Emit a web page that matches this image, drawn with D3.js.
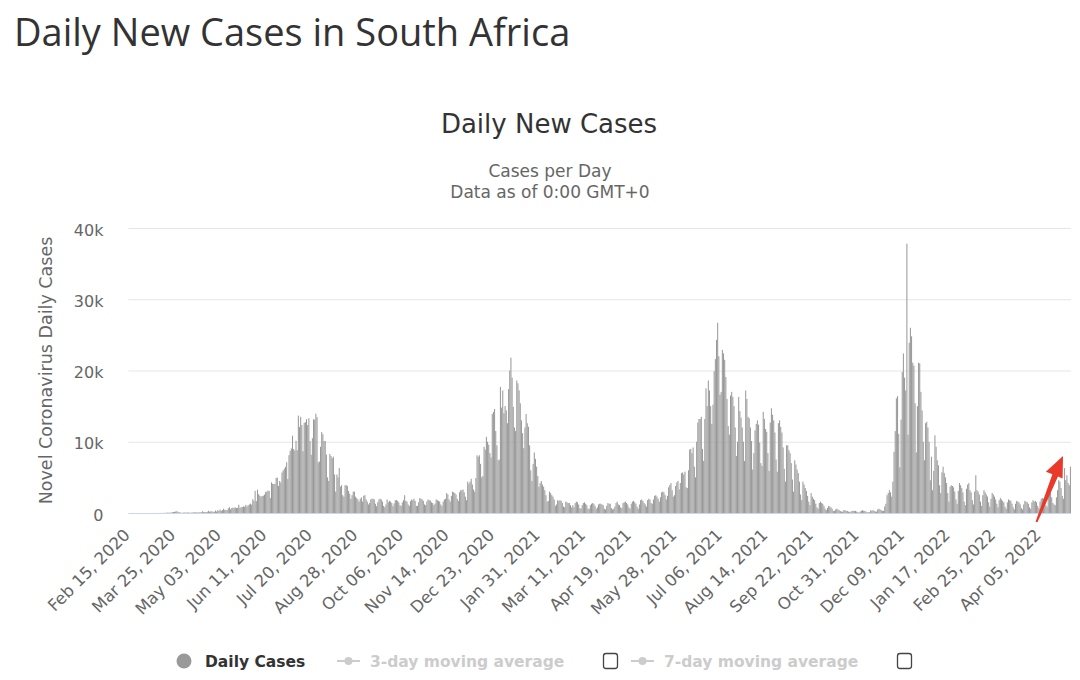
<!DOCTYPE html>
<html>
<head>
<meta charset="utf-8">
<script src="https://cdn.jsdelivr.net/npm/d3@7"></script>
<style>
  html, body { margin: 0; padding: 0; background: #fff; }
  svg { display: block; }
</style>
</head>
<body>
<svg id="chart" width="1080" height="680"></svg>
<script>
// ---------------- DATA (daily new cases, in thousands) ----------------
const firstDay = "2020-02-15";

const cases2020 = [
  /* Feb 15-29 */ [0,0,0,0,0,0,0,0,0,0,0,0,0,0,0],
  /* Mar */ [0,0,0,0,0.001,0,0.001,0.001,0.004,0.006,0.003,0.007,0.014,0.007,0.013,0.024,0.023,0.031,0.054,0.038,0.062,0.034,0.128,0.148,0.155,0.218,0.243,0.17,0.1,0.073,0.027],
  /* Apr */ [0.027,0.082,0.075,0.046,0.077,0.069,0.031,0.063,0.052,0.096,0.087,0.075,0.095,0.068,0.097,0.1,0.087,0.251,0.143,0.15,0.137,0.165,0.318,0.178,0.23,0.247,0.162,0.172,0.354,0.201],
  /* May */ [0.385,0.31,0.5,0.295,0.424,0.595,0.437,0.425,0.393,0.663,0.818,0.511,0.698,0.758,0.724,0.786,0.698,0.728,1.16,0.764,0.8,0.83,0.93,0.874,1.14,0.926,1.08,1.19,1.32,1.18,1.93],
  /* Jun */ [1.7,3.1,1.67,3.27,2.64,2.43,2.31,2.37,2.43,2.59,2.93,3.0,3.16,3.09,2.1,4.3,4.1,4.08,4.08,4.92,4.97,3.78,4.5,4.29,5.69,5.97,6.23,6.49,7.13,4.77],
  /* Jul */ [8.12,8.73,9.06,10.85,8.97,8.77,10.13,8.81,13.67,12.06,13.5,12.35,8.67,12.64,12.76,13.17,12.35,13.29,10.11,8.17,10.5,13.15,13.1,13.94,13.45,7.1,7.23,9.3,11.36,11.05,10.11],
  /* Aug */ [10.1,8.2,5.0,4.5,8.3,8.0,7.7,7.9,5.4,3.0,5.4,5.0,6.3,3.7,3.9,2.5,2.3,3.9,3.9,3.8,3.1,2.7,2.0,2.5,3.0,3.0,2.3,2.1,1.9,1.6,2.0],
  /* Sep */ [2.2,1.62,2.42,2.5,1.9,1.6,1.2,1.4,1.9,2.0,2.0,1.9,1.3,0.96,1.5,1.9,2.0,1.9,1.6,1.0,0.8,1.2,1.9,1.5,1.7,1.6,1.4,0.95,1.35,1.8],
  /* Oct */ [1.8,1.7,1.5,1.1,0.99,1.5,1.8,2.5,1.7,1.6,1.2,1.0,1.65,1.9,1.8,2.0,1.7,1.0,1.0,1.5,2.1,2.0,1.9,1.7,1.2,1.1,1.6,1.9,1.8,1.75,1.5],
  /* Nov */ [1.4,1.1,1.3,1.9,1.8,1.7,1.6,1.2,1.0,1.6,1.9,2.0,2.8,2.6,1.9,1.6,2.4,3.0,2.9,2.8,2.6,2.0,1.7,2.9,3.2,3.2,3.3,2.9,2.3,1.8],
  /* Dec */ [4.4,4.1,4.4,4.8,4.0,3.3,3.0,4.9,8.1,7.9,8.1,6.9,5.0,5.2,9.3,8.9,10.7,10.0,9.6,8.4,7.8,13.9,14.2,14.6,11.5,9.5,7.4,7.5,17.7,14.8,17.2]
];

const cases2021 = [
  /* Jan */ [14.0,15.0,14.4,12.6,17.4,20.0,21.8,19.0,14.9,12.0,11.5,18.6,18.2,17.2,15.4,13.0,11.2,9.1,12.0,13.9,12.6,12.1,9.5,6.0,4.5,6.9,8.5,7.6,6.5,5.2,3.7],
  /* Feb */ [4.2,4.5,4.0,3.7,3.2,2.5,1.6,1.7,3.0,2.8,2.5,2.3,1.9,1.0,1.2,1.8,1.7,1.8,1.7,1.4,0.9,0.8,1.6,1.5,1.4,1.4,1.1,0.8],
  /* Mar */ [1.1,0.8,1.4,1.6,1.5,1.2,0.7,0.6,1.1,1.4,1.5,1.3,1.1,0.6,0.6,1.1,1.3,1.4,1.3,1.0,0.6,0.8,1.2,1.3,1.3,1.2,1.1,0.6,0.5,1.0,1.4],
  /* Apr */ [1.3,1.3,0.7,0.5,0.6,0.9,1.4,1.6,1.2,1.1,0.8,0.7,1.4,1.5,1.6,1.4,1.2,0.8,0.6,1.3,1.6,1.7,1.5,1.3,0.9,0.6,1.2,1.8,1.9,1.7],
  /* May */ [1.4,1.2,0.9,1.8,2.0,1.9,1.4,1.3,1.9,2.4,2.5,2.3,2.0,1.6,2.2,2.9,3.0,2.9,2.5,1.9,2.4,3.6,3.9,4.2,3.2,2.3,2.5,3.8,4.3,4.5,3.3],
  /* Jun */ [4.2,5.6,5.7,5.4,5.8,3.6,3.5,6.0,8.9,9.0,8.4,9.2,6.5,5.0,10.0,12.7,13.2,13.2,13.5,9.0,7.3,13.2,17.5,15.0,18.6,17.2,15.0,12.5,15.2,19.9],
  /* Jul */ [21.6,24.3,26.7,22.0,16.6,17.0,22.9,22.4,21.5,19.1,16.0,12.2,11.0,16.5,17.0,16.3,15.0,12.0,8.0,10.0,16.3,14.3,13.4,12.0,10.0,7.3,17.2,16.0,13.5,13.3,12.0],
  /* Aug */ [10.1,6.1,8.4,11.6,12.5,13.0,12.4,9.9,7.0,6.6,14.2,13.2,11.8,11.4,8.4,5.9,12.7,14.7,13.8,13.0,11.3,7.5,5.8,12.6,13.0,12.1,11.3,9.2,6.2,4.4,9.5],
  /* Sep */ [9.5,8.8,8.4,7.0,4.7,3.0,7.4,6.8,6.1,5.6,4.4,2.6,1.8,4.4,4.0,3.5,3.1,2.4,1.6,1.1,2.8,2.3,2.0,1.8,1.3,0.8,0.6,1.4,1.6,1.4],
  /* Oct */ [1.3,1.0,0.6,0.4,0.7,1.0,0.9,0.8,0.6,0.3,0.3,0.5,0.6,0.5,0.4,0.3,0.2,0.2,0.4,0.4,0.3,0.3,0.2,0.1,0.2,0.3,0.3,0.3,0.3,0.2,0.1],
  /* Nov */ [0.1,0.2,0.3,0.4,0.3,0.3,0.2,0.1,0.1,0.1,0.4,0.3,0.4,0.3,0.2,0.2,0.5,0.6,0.5,0.4,0.3,0.3,0.9,1.3,2.5,2.8,3.2,2.9,2.3,4.4],
  /* Dec */ [8.6,11.5,16.1,16.4,11.1,6.4,13.1,19.8,22.4,19.0,17.2,37.8,11.0,23.9,26.0,24.8,21.1,20.7,15.4,8.5,15.0,21.1,21.0,17.0,14.4,10.0,7.4,12.6,12.8,12.0,10.0]
];

const cases2022 = [
  /* Jan */ [4.6,7.9,3.2,5.9,10.9,9.3,7.4,6.7,3.9,2.8,5.7,6.5,5.6,5.0,4.2,2.8,1.6,3.7,3.9,3.8,3.6,3.0,1.9,1.3,3.1,4.2,3.9,3.5,2.9,1.6,1.1],
  /* Feb */ [3.4,4.0,4.2,3.2,2.9,1.8,1.2,3.0,5.3,3.2,3.0,2.6,1.6,1.0,2.5,3.2,2.9,2.6,2.3,1.5,0.9,2.0,2.8,2.6,2.3,1.9,1.3,0.8],
  /* Mar */ [1.8,2.1,1.9,1.7,1.5,0.9,0.6,1.5,1.9,1.8,1.7,1.3,0.8,0.5,1.3,1.7,1.6,1.5,1.2,0.7,0.5,1.2,1.7,1.6,1.5,1.3,0.8,0.6,1.5,1.8,1.6],
  /* Apr */ [1.7,1.5,1.0,0.7,1.6,2.0,2.1,2.0,1.7,1.1,0.9,2.3,2.6,2.8,2.2,1.4,1.2,1.1,2.2,3.2,4.6,4.4,3.5,2.4,2.0,6.3,4.6,5.3,4.2,3.9],
  /* May */ [6.5]
];

const xTickLabels = ["Feb 15, 2020","Mar 25, 2020","May 03, 2020","Jun 11, 2020","Jul 20, 2020",
  "Aug 28, 2020","Oct 06, 2020","Nov 14, 2020","Dec 23, 2020","Jan 31, 2021","Mar 11, 2021",
  "Apr 19, 2021","May 28, 2021","Jul 06, 2021","Aug 14, 2021","Sep 22, 2021","Oct 31, 2021",
  "Dec 09, 2021","Jan 17, 2022","Feb 25, 2022","Apr 05, 2022"];
const yTickValues = [0, 10000, 20000, 30000, 40000];
const yTickLabels = ["0", "10k", "20k", "30k", "40k"];
const legendItems = ["Daily Cases", "3-day moving average", "7-day moving average"];

// ---------------- BUILD ----------------
const values = [...cases2020, ...cases2021, ...cases2022].flat().map(v => v * 1000);
const parse = d3.timeParse("%Y-%m-%d");
const fmt = d3.timeFormat("%b %d, %Y");
const start = parse(firstDay);
const categories = values.map((v, i) => fmt(d3.timeDay.offset(start, i)));
const data = values.map((v, i) => ({ cat: categories[i], value: v }));

const svg = d3.select("#chart");
const plot = { left: 128.4, right: 1071, top: 228, bottom: 513 };

const x = d3.scaleBand().domain(categories).range([plot.left, plot.right]).paddingInner(0.12).paddingOuter(0.06);
const y = d3.scaleLinear().domain([0, 40000]).range([plot.bottom, plot.top]);

const chartFont = "'DejaVu Sans', 'Lucida Grande', Verdana, sans-serif";

// Page heading
svg.append("text")
  .attr("x", 14).attr("y", 46)
  .attr("font-family", "'Open Sans', 'Segoe UI', sans-serif")
  .attr("font-size", 38)
  .attr("fill", "#333")
  .text("Daily New Cases in South Africa");

// Chart title & subtitle
svg.append("text")
  .attr("x", 549).attr("y", 133).attr("text-anchor", "middle")
  .attr("font-family", chartFont).attr("font-size", 26).attr("fill", "#333")
  .text("Daily New Cases");
svg.append("text")
  .attr("x", 550).attr("y", 176.5).attr("text-anchor", "middle")
  .attr("font-family", chartFont).attr("font-size", 17).attr("fill", "#666")
  .text("Cases per Day");
svg.append("text")
  .attr("x", 550).attr("y", 198).attr("text-anchor", "middle")
  .attr("font-family", chartFont).attr("font-size", 17).attr("fill", "#666")
  .text("Data as of 0:00 GMT+0");

// Y axis with gridlines
const yAxis = d3.axisLeft(y)
  .tickValues(yTickValues)
  .tickFormat((d, i) => yTickLabels[i])
  .tickSize(-(plot.right - plot.left))
  .tickPadding(25);
const gy = svg.append("g").attr("transform", `translate(${plot.left},0)`).call(yAxis);
gy.select(".domain").remove();
gy.selectAll(".tick line").attr("stroke", "#e6e6e6").attr("stroke-width", 1);
gy.selectAll(".tick text")
  .attr("font-family", chartFont).attr("font-size", 16).attr("fill", "#666")
  .attr("dy", "0.45em");

// Y axis title
svg.append("text")
  .attr("transform", `translate(52,${(plot.top + plot.bottom) / 2}) rotate(-90)`)
  .attr("text-anchor", "middle")
  .attr("font-family", chartFont).attr("font-size", 17.5).attr("fill", "#666")
  .text("Novel Coronavirus Daily Cases");

// Bars
svg.append("g").selectAll("rect")
  .data(data)
  .join("rect")
  .attr("x", d => x(d.cat))
  .attr("width", x.bandwidth())
  .attr("y", d => y(d.value))
  .attr("height", d => y(0) - y(d.value))
  .attr("fill", "#999");

// X axis line
svg.append("line")
  .attr("x1", plot.left).attr("x2", plot.right)
  .attr("y1", plot.bottom + 0.5).attr("y2", plot.bottom + 0.5)
  .attr("stroke", "#ccd6eb").attr("stroke-width", 1);

// X axis labels
const xAxis = d3.axisBottom(x).tickValues(xTickLabels).tickSize(0);
const gx = svg.append("g").attr("transform", `translate(0,${plot.bottom})`).call(xAxis);
gx.select(".domain").remove();
gx.selectAll(".tick text")
  .attr("x", 0).attr("y", 0).attr("dy", 0)
  .attr("transform", "translate(2,23) rotate(-45)")
  .attr("text-anchor", "end")
  .attr("font-family", chartFont).attr("font-size", 16.5).attr("fill", "#666");

// Legend
const lg = svg.append("g").attr("font-family", chartFont).attr("font-size", 15.5).attr("font-weight", "bold");
lg.append("circle").attr("cx", 184).attr("cy", 661).attr("r", 7.5).attr("fill", "#999");
lg.append("text").attr("x", 205).attr("y", 667).attr("fill", "#333").text(legendItems[0]);

const lineSym = [{x0: 337, x1: 360, tx: 370, box: 603}, {x0: 631, x1: 654, tx: 664, box: 897}];
lineSym.forEach((s, i) => {
  lg.append("line").attr("x1", s.x0).attr("x2", s.x1).attr("y1", 661).attr("y2", 661)
    .attr("stroke", "#ccc").attr("stroke-width", 2);
  lg.append("circle").attr("cx", (s.x0 + s.x1) / 2).attr("cy", 661).attr("r", 4).attr("fill", "#ccc");
  lg.append("text").attr("x", s.tx).attr("y", 667).attr("fill", "#ccc").text(legendItems[i + 1]);
  lg.append("rect").attr("x", s.box + 0.5).attr("y", 653.5).attr("width", 14).attr("height", 15)
    .attr("rx", 2.5).attr("fill", "#fff").attr("stroke", "#444").attr("stroke-width", 1.3);
});

// Red annotation arrow
const tip = [1063, 456], tail = [1036.5, 522];
const ux = tip[0] - tail[0], uy = tip[1] - tail[1];
const L = Math.hypot(ux, uy), u = [ux / L, uy / L], n = [-u[1], u[0]];
const hb = [tip[0] - 21 * u[0], tip[1] - 21 * u[1]];
const P = (c, k) => [c[0] + k * n[0], c[1] + k * n[1]];
const arrowPts = [P(tail, -1), P(hb, -3), P(hb, -10), tip, P(hb, 8), P(hb, 3), P(tail, 1)];
svg.append("path")
  .attr("d", d3.line()(arrowPts) + "Z")
  .attr("fill", "#e8392b");
</script>
</body>
</html>
